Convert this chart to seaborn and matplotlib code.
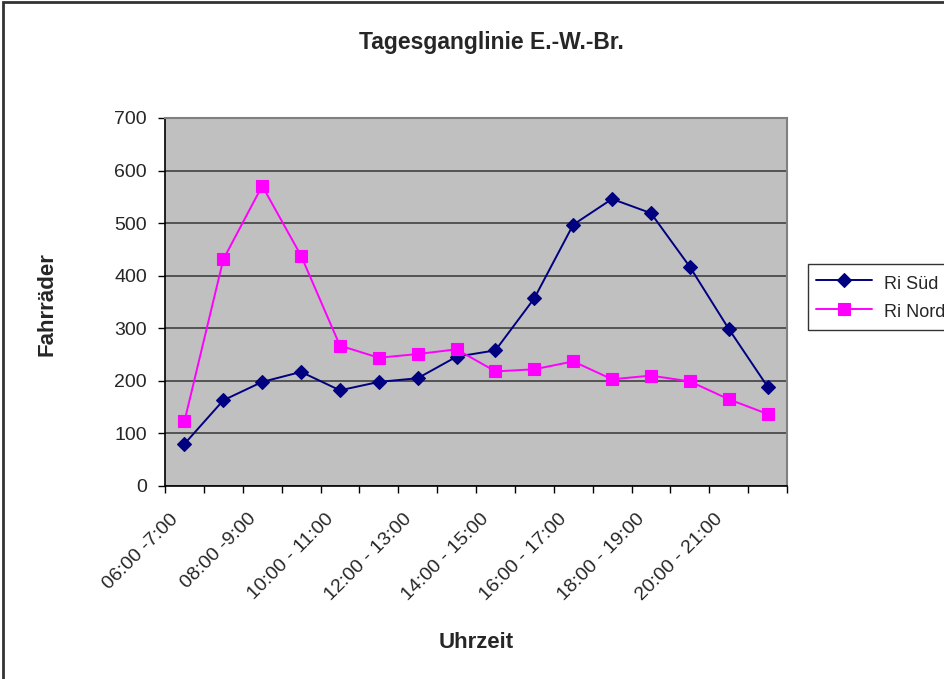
import pandas as pd
import seaborn as sns
import matplotlib.pyplot as plt
from matplotlib.patches import Rectangle

# Zeitintervalle (16 Stunden) und Messwerte
zeiten = ['06:00 -7:00', '07:00 -8:00', '08:00 -9:00', '09:00 - 10:00',
          '10:00 - 11:00', '11:00 - 12:00', '12:00 - 13:00', '13:00 - 14:00',
          '14:00 - 15:00', '15:00 - 16:00', '16:00 - 17:00', '17:00 - 18:00',
          '18:00 - 19:00', '19:00 - 20:00', '20:00 - 21:00', '21:00 - 22:00']
ri_sued = [80, 163, 198, 217, 182, 198, 205, 246, 258, 357, 497, 546, 519, 417, 299, 189]
ri_nord = [123, 431, 571, 438, 267, 244, 251, 260, 218, 222, 237, 203, 210, 199, 165, 137]
y_ticks = [0, 100, 200, 300, 400, 500, 600, 700]

df = pd.DataFrame({
    'Uhrzeit': zeiten * 2,
    'Fahrräder': ri_sued + ri_nord,
    'Richtung': ['Ri Süd'] * len(zeiten) + ['Ri Nord'] * len(zeiten),
})

sns.set_style('white')
plt.rcParams['font.family'] = ['Liberation Sans', 'DejaVu Sans']

fig = plt.figure(figsize=(9.44, 6.79), dpi=100)
ax = fig.add_axes([165 / 944, 1 - 486 / 679, (787 - 165) / 944, (486 - 118) / 679])
ax.set_facecolor('#c0c0c0')

sns.lineplot(data=df, x='Uhrzeit', y='Fahrräder', hue='Richtung', style='Richtung',
             palette={'Ri Süd': '#000080', 'Ri Nord': '#ff00ff'},
             markers={'Ri Süd': 'D', 'Ri Nord': 's'}, dashes=False,
             linewidth=1.4, markersize=7, markeredgewidth=0.8, ax=ax, sort=False)
for line in ax.get_lines():
    if line.get_marker() == 's':
        line.set_markersize(9)
    line.set_markeredgecolor(line.get_color())

n = len(zeiten)
ax.set_xlim(-0.5, n - 0.5)
ax.set_ylim(0, 700)
ax.set_yticks(y_ticks)
ax.yaxis.grid(True, color='#4a4a4a', linewidth=1.3)
ax.set_axisbelow(True)

# Ticks an den Kategoriegrenzen, Beschriftung jede zweite Kategorie (leicht nach links versetzt)
ax.set_xticks([i - 0.5 for i in range(n + 1)], minor=False)
ax.set_xticklabels([])
ax.set_xticks([i - 0.23 for i in range(0, n, 2)], minor=True)
ax.set_xticklabels(zeiten[0::2], minor=True, rotation=45, ha='right', va='center',
                   rotation_mode='anchor', fontsize=14)
ax.tick_params(axis='x', which='major', direction='out', length=5, width=1, color='black', bottom=True)
ax.tick_params(axis='x', which='minor', length=0, pad=22)
ax.tick_params(axis='y', direction='out', length=5, width=1, color='black', labelsize=14,
               left=True, pad=8)

for s in ['top', 'right']:
    ax.spines[s].set_color('#808080')
    ax.spines[s].set_linewidth(1.5)
for s in ['left', 'bottom']:
    ax.spines[s].set_color('black')
    ax.spines[s].set_linewidth(1.2)

ax.set_xlabel('')
ax.set_ylabel('')
fig.text(491 / 944, 1 - 43 / 679, 'Tagesganglinie E.-W.-Br.', ha='center', va='center',
         fontsize=16.5, fontweight='bold')
fig.text(476 / 944, 1 - 642 / 679, 'Uhrzeit', ha='center', va='center',
         fontsize=16, fontweight='bold')
fig.text(47 / 944, 1 - 304 / 679, 'Fahrräder', ha='center', va='center', rotation=90,
         fontsize=16, fontweight='bold')

leg = ax.legend(loc='upper left', bbox_to_anchor=(808 / 944, 1 - 264 / 679),
                bbox_transform=fig.transFigure, frameon=True, fancybox=False,
                fontsize=13, borderpad=0.45, borderaxespad=0, handlelength=3.1,
                handleheight=1.44, handletextpad=0.66, labelspacing=0.39,
                edgecolor='black', title=None)
leg.get_frame().set_linewidth(1)

fig.patches.append(Rectangle((3 / 944, -0.05), 1.2, 1.05 - 2 / 679, transform=fig.transFigure,
                             fill=False, edgecolor='#333333', linewidth=2))

fig.savefig('out.png', dpi=100)
